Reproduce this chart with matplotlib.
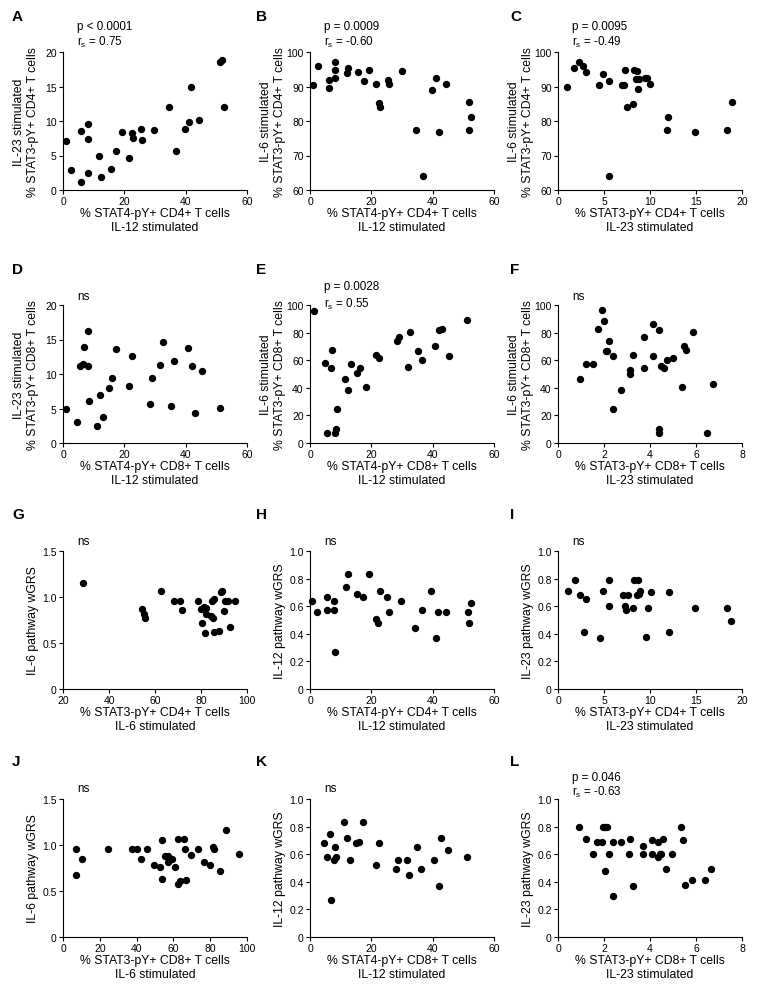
import matplotlib

matplotlib.use("Agg")
import matplotlib.pyplot as plt  # noqa: E402

plt.rcParams["font.family"] = ["Liberation Sans", "DejaVu Sans"]
plt.rcParams["mathtext.fontset"] = "custom"
plt.rcParams["mathtext.rm"] = "Liberation Sans"
plt.rcParams["mathtext.it"] = "Liberation Sans:italic"

W, H, DPI = 759, 995, 100

# ---- data ----
A_X = [1.1, 2.5, 5.8, 6.0, 8.2, 8.2, 8.0, 11.8, 12.3, 15.5, 17.3, 19.3, 21.6, 22.4,
       22.9, 25.3, 25.6, 29.7, 34.5, 36.8, 39.8, 41.2, 41.9, 44.5, 51.3, 51.8, 52.4]
A_Y = [7.1, 2.9, 8.6, 1.2, 9.6, 7.4, 2.5, 5.0, 1.9, 3.0, 5.6, 8.4, 4.6, 8.2,
       7.6, 8.9, 7.3, 8.7, 12.0, 5.6, 8.8, 9.9, 15.0, 10.1, 18.5, 18.9, 12.1]

B_X = [1.1, 2.7, 6.1, 6.2, 8.1, 8.2, 8.3, 12.0, 12.4, 15.5, 17.5, 19.3, 21.6, 22.4,
       22.9, 25.4, 25.7, 29.9, 34.6, 36.8, 39.8, 41.2, 42.1, 44.5, 51.7, 52.0, 52.6]
B_Y = [90.3, 95.9, 92.0, 89.7, 97.1, 94.8, 92.5, 93.8, 95.4, 94.2, 91.7, 94.9, 90.6, 85.2,
       84.0, 92.0, 90.7, 94.4, 77.5, 64.1, 89.1, 92.4, 76.9, 90.8, 77.3, 85.6, 81.2]

C_X = [1.0, 1.7, 2.3, 2.7, 3.0, 4.5, 4.9, 5.5, 5.5, 7.0, 7.2, 7.3, 7.5, 8.1,
       8.3, 8.6, 8.5, 8.7, 8.8, 9.5, 9.7, 10.0, 12.0, 11.9, 14.9, 18.4, 18.9]
C_Y = [89.8, 95.3, 97.1, 95.8, 94.2, 90.5, 93.7, 91.7, 64.1, 90.3, 90.5, 94.7, 84.0, 85.0,
       94.9, 94.4, 92.1, 89.2, 92.1, 92.6, 92.4, 90.8, 81.1, 77.5, 76.9, 77.3, 85.6]

D_X = [1.1, 4.6, 5.5, 6.5, 6.9, 8.0, 8.2, 8.5, 11.1, 12.0, 13.1, 14.9, 15.9, 17.3,
       21.5, 22.5, 28.3, 29.0, 31.7, 32.6, 35.1, 36.2, 40.6, 42.1, 42.9, 45.3, 51.2]
D_Y = [4.9, 3.0, 11.1, 11.5, 13.9, 16.2, 11.1, 6.1, 2.4, 6.9, 3.8, 7.9, 9.4, 13.6,
       8.2, 12.6, 5.6, 9.4, 11.3, 14.7, 5.4, 11.9, 13.8, 11.1, 4.3, 10.4, 5.1]

E_X = [1.4, 4.9, 5.7, 6.8, 7.1, 8.3, 8.5, 8.8, 11.5, 12.3, 13.3, 15.2, 16.3, 18.1,
       21.5, 22.6, 28.4, 29.0, 31.9, 32.6, 35.1, 36.4, 40.6, 42.2, 42.9, 45.3, 51.3]
E_Y = [95.8, 57.7, 7.4, 54.1, 67.1, 7.4, 10.3, 24.8, 46.2, 38.3, 57.5, 50.4, 54.3, 40.8,
       63.9, 61.9, 73.7, 76.9, 55.3, 80.3, 66.8, 60.0, 70.3, 81.8, 82.3, 62.9, 88.9]

F_X = [0.95, 1.22, 1.54, 1.72, 1.93, 2.0, 2.07, 2.15, 2.23, 2.4, 2.41, 2.75, 3.13, 3.13,
       3.27, 3.72, 3.74, 4.12, 4.13, 4.4, 4.38, 4.39, 4.49, 4.61, 4.73, 5.0, 5.41, 5.47,
       5.56, 5.85, 6.46, 6.72]
F_Y = [46.2, 57.2, 57.2, 82.8, 96.3, 88.7, 66.8, 66.8, 73.7, 62.9, 24.6, 38.3, 53.0, 50.0,
       63.9, 76.9, 54.3, 86.5, 62.7, 81.8, 10.1, 7.1, 55.5, 54.1, 60.0, 61.4, 40.8, 70.3,
       67.3, 80.3, 7.1, 42.8]

G_X = [28.6, 54.3, 55.0, 55.6, 62.8, 68.3, 70.9, 71.6, 78.8, 80.0, 80.3, 81.3, 82.3, 82.0,
       81.7, 84.6, 85.0, 84.3, 85.6, 85.6, 87.9, 88.8, 89.2, 89.9, 90.3, 91.6, 92.4, 94.7]
G_Y = [1.15, 0.87, 0.81, 0.77, 1.07, 0.96, 0.96, 0.86, 0.96, 0.87, 0.72, 0.89, 0.88, 0.81,
       0.61, 0.96, 0.77, 0.79, 0.98, 0.62, 0.63, 1.05, 1.07, 0.85, 0.96, 0.96, 0.67, 0.96]

H_X = [0.8, 2.4, 5.7, 5.7, 7.9, 7.9, 8.0, 11.6, 12.3, 15.2, 17.2, 19.1, 21.4, 22.2,
       22.7, 25.1, 25.6, 29.6, 34.3, 36.6, 39.6, 41.1, 41.9, 44.4, 51.4, 51.9, 52.5]
H_Y = [0.64, 0.56, 0.67, 0.57, 0.64, 0.57, 0.27, 0.74, 0.83, 0.69, 0.67, 0.83, 0.51, 0.48,
       0.71, 0.67, 0.56, 0.64, 0.44, 0.57, 0.71, 0.37, 0.56, 0.56, 0.56, 0.48, 0.62]

I_X = [1.1, 1.8, 2.4, 2.8, 3.0, 4.6, 4.9, 5.5, 5.5, 7.1, 7.3, 7.4, 7.6, 8.1,
       8.3, 8.7, 8.6, 8.8, 8.9, 9.6, 9.8, 10.1, 12.1, 12.1, 14.9, 18.4, 18.8]
I_Y = [0.71, 0.79, 0.68, 0.41, 0.65, 0.37, 0.71, 0.79, 0.60, 0.68, 0.60, 0.57, 0.68, 0.59,
       0.79, 0.79, 0.68, 0.69, 0.71, 0.38, 0.59, 0.70, 0.70, 0.41, 0.59, 0.59, 0.49]

J_X = [6.9, 6.9, 10.1, 24.4, 37.6, 40.3, 42.3, 45.8, 49.7, 52.6, 53.9, 53.9, 55.2, 57.1,
       57.1, 59.3, 60.9, 62.4, 62.4, 63.5, 66.0, 66.2, 66.9, 69.8, 73.1, 76.5, 79.7, 81.6,
       82.3, 85.5, 88.4, 95.5]
J_Y = [0.96, 0.67, 0.85, 0.96, 0.96, 0.96, 0.85, 0.96, 0.78, 0.76, 1.05, 0.63, 0.88, 0.88,
       0.81, 0.85, 0.76, 1.07, 0.58, 0.61, 1.07, 0.96, 0.62, 0.89, 0.96, 0.81, 0.78, 0.98,
       0.96, 0.72, 1.16, 0.90]

K_X = [4.6, 5.5, 6.5, 6.9, 7.9, 8.2, 8.5, 11.1, 12.1, 13.1, 14.9, 15.9, 17.3, 21.4,
       22.5, 27.9, 28.8, 31.6, 32.4, 34.9, 36.1, 40.4, 42.0, 42.7, 45.1, 51.2]
K_Y = [0.68, 0.58, 0.75, 0.27, 0.56, 0.65, 0.58, 0.83, 0.72, 0.56, 0.68, 0.69, 0.83, 0.52,
       0.68, 0.49, 0.56, 0.56, 0.45, 0.65, 0.49, 0.56, 0.37, 0.72, 0.63, 0.58]

L_X = [0.92, 1.2, 1.52, 1.68, 1.93, 1.97, 2.06, 2.15, 2.04, 2.2, 2.39, 2.38, 2.73, 3.11,
       3.1, 3.24, 3.69, 3.69, 4.09, 4.09, 4.35, 4.35, 4.44, 4.48, 4.58, 4.7, 4.95, 5.36,
       5.43, 5.52, 5.81, 6.41, 6.67]
L_Y = [0.80, 0.71, 0.60, 0.69, 0.69, 0.80, 0.80, 0.80, 0.48, 0.60, 0.69, 0.30, 0.69, 0.71,
       0.60, 0.37, 0.66, 0.60, 0.70, 0.60, 0.69, 0.58, 0.60, 0.60, 0.71, 0.49, 0.60, 0.80,
       0.70, 0.38, 0.41, 0.41, 0.49]

# axis labels
X_S4_CD4_12 = "% STAT4-pY+ CD4+ T cells\nIL-12 stimulated"
X_S3_CD4_23 = "% STAT3-pY+ CD4+ T cells\nIL-23 stimulated"
X_S3_CD4_6 = "% STAT3-pY+ CD4+ T cells\nIL-6 stimulated"
X_S4_CD8_12 = "% STAT4-pY+ CD8+ T cells\nIL-12 stimulated"
X_S3_CD8_23 = "% STAT3-pY+ CD8+ T cells\nIL-23 stimulated"
X_S3_CD8_6 = "% STAT3-pY+ CD8+ T cells\nIL-6 stimulated"

# (letter, x, y, xlim, xticks, ylim, yticks, ydec, xlabel, ylabel, notes)
PANELS = [
    ("A", A_X, A_Y, (0, 60), [0, 20, 40, 60], (0, 20), [0, 5, 10, 15, 20], 0,
     X_S4_CD4_12, "IL-23 stimulated\n% STAT3-pY+ CD4+ T cells",
     [("p < 0.0001", 27), (r"r$_{\mathrm{s}}$ = 0.75", 42)]),
    ("B", B_X, B_Y, (0, 60), [0, 20, 40, 60], (60, 100), [60, 70, 80, 90, 100], 0,
     X_S4_CD4_12, "IL-6 stimulated\n% STAT3-pY+ CD4+ T cells",
     [("p = 0.0009", 27), (r"r$_{\mathrm{s}}$ = -0.60", 42)]),
    ("C", C_X, C_Y, (0, 20), [0, 5, 10, 15, 20], (60, 100), [60, 70, 80, 90, 100], 0,
     X_S3_CD4_23, "IL-6 stimulated\n% STAT3-pY+ CD4+ T cells",
     [("p = 0.0095", 27), (r"r$_{\mathrm{s}}$ = -0.49", 42)]),
    ("D", D_X, D_Y, (0, 60), [0, 20, 40, 60], (0, 20), [0, 5, 10, 15, 20], 0,
     X_S4_CD8_12, "IL-23 stimulated\n% STAT3-pY+ CD8+ T cells",
     [("ns", 297)]),
    ("E", E_X, E_Y, (0, 60), [0, 20, 40, 60], (0, 100), [0, 20, 40, 60, 80, 100], 0,
     X_S4_CD8_12, "IL-6 stimulated\n% STAT3-pY+ CD8+ T cells",
     [("p = 0.0028", 287), (r"r$_{\mathrm{s}}$ = 0.55", 304)]),
    ("F", F_X, F_Y, (0, 8), [0, 2, 4, 6, 8], (0, 100), [0, 20, 40, 60, 80, 100], 0,
     X_S3_CD8_23, "IL-6 stimulated\n% STAT3-pY+ CD8+ T cells",
     [("ns", 297)]),
    ("G", G_X, G_Y, (20, 100), [20, 40, 60, 80, 100], (0, 1.5), [0, 0.5, 1.0, 1.5], 1,
     X_S3_CD4_6, "IL-6 pathway wGRS", [("ns", 542)]),
    ("H", H_X, H_Y, (0, 60), [0, 20, 40, 60], (0, 1.0), [0, 0.2, 0.4, 0.6, 0.8, 1.0], 1,
     X_S4_CD4_12, "IL-12 pathway wGRS", [("ns", 542)]),
    ("I", I_X, I_Y, (0, 20), [0, 5, 10, 15, 20], (0, 1.0), [0, 0.2, 0.4, 0.6, 0.8, 1.0], 1,
     X_S3_CD4_23, "IL-23 pathway wGRS", [("ns", 542)]),
    ("J", J_X, J_Y, (0, 100), [0, 20, 40, 60, 80, 100], (0, 1.5), [0, 0.5, 1.0, 1.5], 1,
     X_S3_CD8_6, "IL-6 pathway wGRS", [("ns", 789)]),
    ("K", K_X, K_Y, (0, 60), [0, 20, 40, 60], (0, 1.0), [0, 0.2, 0.4, 0.6, 0.8, 1.0], 1,
     X_S4_CD8_12, "IL-12 pathway wGRS", [("ns", 789)]),
    ("L", L_X, L_Y, (0, 8), [0, 2, 4, 6, 8], (0, 1.0), [0, 0.2, 0.4, 0.6, 0.8, 1.0], 1,
     X_S3_CD8_23, "IL-23 pathway wGRS",
     [("p = 0.046", 778), (r"r$_{\mathrm{s}}$ = -0.63", 792)]),
]

# layout in pixels
LEFTS = [63, 310, 558]
AX_W = 184
TOPS = [53, 306, 552, 800]
AX_H = 138
LETTER_X = [12, 256, 510]
LETTER_Y = [17, 270, 515, 762]


def _fmt(v, dec):
    if v == 0:
        return "0"
    return f"{v:.{dec}f}"


fig = plt.figure(figsize=(W / DPI, H / DPI), dpi=DPI)

for i, (letter, xs, ys, xlim, xticks, ylim, yticks, ydec, xlab, ylab, notes) in enumerate(PANELS):
    row, col = divmod(i, 3)
    left, top = LEFTS[col], TOPS[row]
    ax = fig.add_axes([left / W, 1 - (top + AX_H) / H, AX_W / W, AX_H / H])
    ax.scatter(xs, ys, s=28, color="black", linewidths=0, clip_on=False, zorder=3)

    ax.set_xlim(*xlim)
    ax.set_ylim(*ylim)
    ax.set_xticks(xticks)
    ax.set_xticklabels([f"{t:g}" for t in xticks])
    ax.set_yticks(yticks)
    ax.set_yticklabels([_fmt(t, ydec) for t in yticks])

    for s in ("top", "right"):
        ax.spines[s].set_visible(False)
    for s in ("left", "bottom"):
        ax.spines[s].set_linewidth(0.8)
    ax.tick_params(direction="out", length=3, width=0.8, labelsize=7.5, pad=1.5)

    ax.set_xlabel(xlab, fontsize=8.8, linespacing=1.2, va="top")
    ax.xaxis.set_label_coords(0.5, -17 / AX_H)
    ax.set_ylabel(ylab, fontsize=8.8, linespacing=1.2)
    ax.yaxis.set_label_coords(-24 / AX_W, 0.5)

    for txt, ypix in notes:
        fig.text((left + 14) / W, 1 - ypix / H, txt, fontsize=8.4, ha="left", va="center")

    fig.text(LETTER_X[col] / W, 1 - LETTER_Y[row] / H, letter, fontsize=11,
             fontweight="bold", ha="left", va="center")

fig.savefig("out.png", dpi=DPI)
plt.close(fig)
